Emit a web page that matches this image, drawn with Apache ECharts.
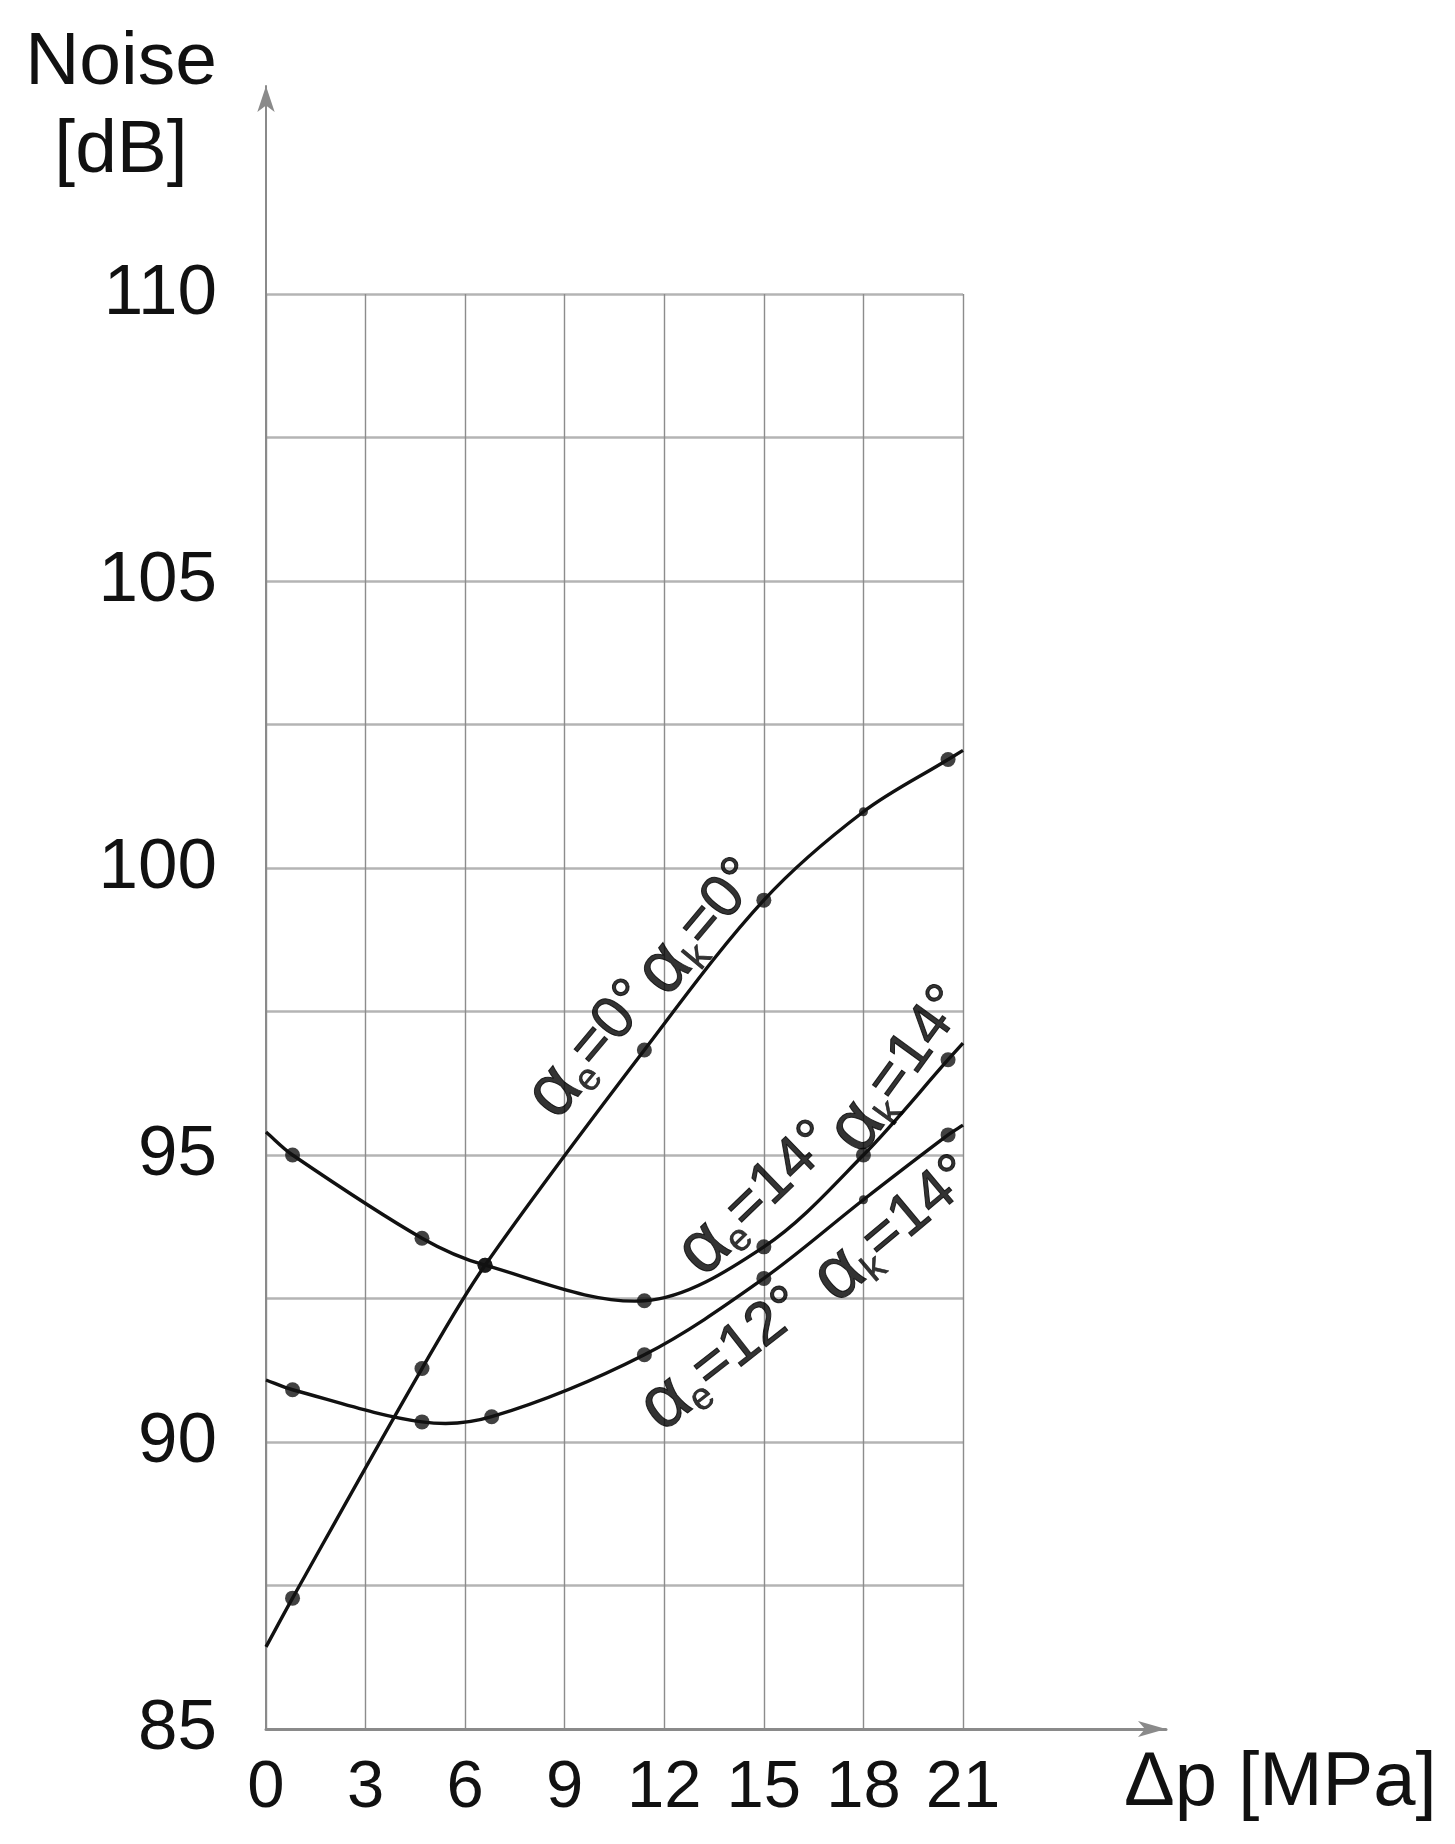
<!DOCTYPE html>
<html>
<head>
<meta charset="utf-8">
<script src="https://cdn.jsdelivr.net/npm/echarts@6/dist/echarts.min.js"></script>
<style>
  html, body { margin: 0; padding: 0; background: #fff; }
  #noiseChart { width: 1455px; height: 1844px; }
</style>
</head>
<body>
<div id="noiseChart"></div>
<script>
// measured points, Δp [MPa] vs noise [dB]
const steepX = [0.8, 4.7, 6.6, 11.4, 15, 18, 20.55]
const steepY = [87.28, 91.28, 93.08, 96.83, 99.44, 100.98, 101.89]
const steepEnds = [86.43, 102.05]

const upperX = [0.8, 4.7, 6.6, 11.4, 15, 18, 20.55]
const upperY = [95.0, 93.55, 93.08, 92.46, 93.4, 95.0, 96.66]
const upperEnds = [95.4, 96.95]

const lowerX = [0.8, 4.7, 6.8, 11.4, 15, 18, 20.55]
const lowerY = [90.91, 90.35, 90.44, 91.52, 92.85, 94.22, 95.35]
const lowerEnds = [91.08, 95.52]

const xRange = [0, 21]
const xStep = 3
const yRange = [85, 110]
const yStep = 2.5

// curve annotations: subscript, angle value, anchor (data coords), rotation
const labelSub = ['e', 'k', 'e', 'k', 'e', 'k']
const labelVal = ['0', '0', '14', '14', '12', '14']
const labelAt = [[9.8, 96.85], [13.1, 98.98], [14.8, 94.25], [19.1, 96.5], [13.8, 91.45], [18.95, 93.72]]
const labelAngle = [50, 50, 44, 54, 38, 40]

const FONT = "'Liberation Sans', Arial, sans-serif"

function curve(xs, ys, ends) {
  return [[xRange[0], ends[0]]]
    .concat(xs.map((x, i) => [x, ys[i]]))
    .concat([[xRange[1], ends[1]]])
}
function points(xs, ys) {
  return xs.map((x, i) => [x, ys[i]])
}

// spline through pixel points, tangents weighted by segment length
function splinePath(pts) {
  const dist = (a, b) => Math.hypot(b[0] - a[0], b[1] - a[1])
  let d = 'M' + pts[0][0] + ' ' + pts[0][1]
  for (let i = 0; i < pts.length - 1; i++) {
    const p0 = pts[i - 1] || pts[i]
    const p1 = pts[i]
    const p2 = pts[i + 1]
    const p3 = pts[i + 2] || pts[i + 1]
    const d01 = dist(p0, p1)
    const d12 = dist(p1, p2)
    const d23 = dist(p2, p3)
    const k1 = d12 / (d01 + d12 || 1) / 1.5
    const k2 = d12 / (d12 + d23 || 1) / 1.5
    const c1 = [p1[0] + (p2[0] - p0[0]) * k1 / 2, p1[1] + (p2[1] - p0[1]) * k1 / 2]
    const c2 = [p2[0] - (p3[0] - p1[0]) * k2 / 2, p2[1] - (p3[1] - p1[1]) * k2 / 2]
    d += ' C' + c1[0] + ' ' + c1[1] + ' ' + c2[0] + ' ' + c2[1] + ' ' + p2[0] + ' ' + p2[1]
  }
  return d
}

function curveSeries(data) {
  return {
    type: 'custom',
    xAxisIndex: 0,
    yAxisIndex: 0,
    silent: true,
    encode: { x: 0, y: 1 },
    data,
    renderItem: (params, api) => {
      if (params.dataIndex !== 0) return
      const pts = data.map((p) => api.coord(p))
      return {
        type: 'path',
        shape: { pathData: splinePath(pts) },
        style: { fill: 'none', stroke: '#111', lineWidth: 3.4 },
      }
    },
  }
}

const chart = echarts.init(document.getElementById('noiseChart'))

const dot = { color: '#111' }

const option = {
  backgroundColor: '#fff',
  animation: false,
  grid: [
    { left: 266, top: 294, width: 697, height: 1435 },
    { left: 266, top: 86, width: 900, height: 1643 },
  ],
  xAxis: [
    {
      gridIndex: 0,
      type: 'value',
      min: xRange[0],
      max: xRange[1],
      interval: xStep,
      axisLine: { show: false },
      axisTick: { show: false },
      axisLabel: {
        margin: 26,
        fontSize: 67,
        fontFamily: FONT,
        color: '#111',
      },
      splitLine: {
        show: true,
        lineStyle: { color: '#8c8c8c', width: 1.4 },
      },
    },
    {
      gridIndex: 1,
      type: 'value',
      min: 0,
      max: 1,
      axisLine: {
        show: true,
        onZero: false,
        symbol: ['none', 'arrow'],
        symbolSize: [12, 28],
        lineStyle: { color: '#8a8a8a', width: 3 },
      },
      axisTick: { show: false },
      axisLabel: { show: false },
      splitLine: { show: false },
    },
  ],
  yAxis: [
    {
      gridIndex: 0,
      type: 'value',
      min: yRange[0],
      max: yRange[1],
      interval: yStep,
      axisLine: { show: false },
      axisTick: { show: false },
      axisLabel: {
        margin: 49,
        fontSize: 71,
        fontFamily: FONT,
        color: '#111',
        formatter: (v) => (v % 5 === 0 ? String(v) : ''),
      },
      splitLine: {
        show: true,
        lineStyle: { color: '#b4b4b4', width: 2.5 },
      },
    },
    {
      gridIndex: 1,
      type: 'value',
      min: 0,
      max: 1,
      axisLine: {
        show: true,
        onZero: false,
        symbol: ['none', 'arrow'],
        symbolSize: [13, 26],
        lineStyle: { color: '#8a8a8a', width: 2 },
      },
      axisTick: { show: false },
      axisLabel: { show: false },
      splitLine: { show: false },
    },
  ],
  graphic: [
    {
      type: 'text',
      x: 121,
      y: 19,
      style: {
        text: 'Noise\n[dB]',
        font: '75px ' + FONT,
        fill: '#111',
        textAlign: 'center',
        textVerticalAlign: 'top',
        lineHeight: 88,
      },
    },
    {
      type: 'text',
      x: 1124,
      y: 1784,
      style: {
        text: 'Δp [MPa]',
        font: '76px ' + FONT,
        fill: '#111',
        textAlign: 'left',
        textVerticalAlign: 'middle',
      },
    },
  ],
  series: [
    curveSeries(curve(steepX, steepY, steepEnds)),
    curveSeries(curve(upperX, upperY, upperEnds)),
    curveSeries(curve(lowerX, lowerY, lowerEnds)),
    {
      type: 'scatter',
      xAxisIndex: 0,
      yAxisIndex: 0,
      symbolSize: (v) => (v[0] === 18 ? 9 : 15),
      itemStyle: dot,
      data: points(steepX, steepY),
    },
    {
      type: 'scatter',
      xAxisIndex: 0,
      yAxisIndex: 0,
      symbolSize: 15,
      itemStyle: dot,
      data: points(upperX, upperY),
    },
    {
      type: 'scatter',
      xAxisIndex: 0,
      yAxisIndex: 0,
      symbolSize: (v) => (v[0] === 18 ? 9 : 15),
      itemStyle: dot,
      data: points(lowerX, lowerY),
    },
    {
      type: 'scatter',
      xAxisIndex: 0,
      yAxisIndex: 0,
      symbolSize: 0,
      silent: true,
      z: 5,
      data: labelAt.map((p, i) => ({
        value: p,
        label: {
          show: true,
          position: 'inside',
          rotate: labelAngle[i],
          formatter: '{a|α}{s|' + labelSub[i] + '}{t|=' + labelVal[i] + '°}',
        },
      })),
      label: {
        color: '#000',
        rich: {
          a: { fontSize: 74, fontFamily: FONT, color: '#000', textBorderColor: '#000', textBorderWidth: 1 },
          s: { fontSize: 38, fontFamily: FONT, color: '#000', textBorderColor: '#000', textBorderWidth: 0.6, verticalAlign: 'bottom' },
          t: { fontSize: 60, fontFamily: FONT, color: '#000', textBorderColor: '#000', textBorderWidth: 1 },
        },
      },
    },
  ],
}

option && chart.setOption(option)
</script>
</body>
</html>
